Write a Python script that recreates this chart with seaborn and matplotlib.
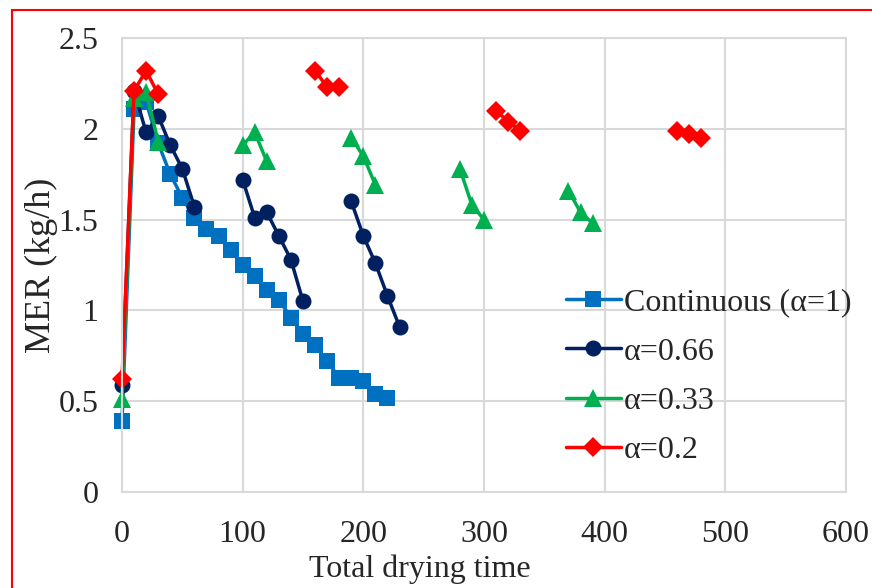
import pandas as pd
import matplotlib
matplotlib.use("Agg")
import matplotlib.pyplot as plt
import seaborn as sns
from matplotlib.lines import Line2D
from matplotlib.patches import Rectangle

# -------------------------
# DATA
# -------------------------
labels = ["Continuous (α=1)", "α=0.66", "α=0.33", "α=0.2"]
colors = ["#0070C0", "#002060", "#00B050", "#FF0000"]
markers = ["s", "o", "^", "D"]
marker_sizes = [11.5, 11.5, 13, 10.5]

# continuous drying, one run
cont_time = [[0, 10, 20, 30, 40, 50, 60, 70, 80, 90, 100, 110, 120, 130, 140,
              150, 160, 170, 180, 190, 200, 210, 220]]
cont_mer = [[0.39, 2.11, 2.15, 1.92, 1.75, 1.62, 1.51, 1.45, 1.41, 1.33, 1.25, 1.19,
             1.11, 1.06, 0.96, 0.87, 0.81, 0.72, 0.63, 0.63, 0.61, 0.54, 0.52]]

# intermittent drying, one list per drying period
a066_time = [[0, 10, 20, 30, 40, 50, 60], [100, 110, 120, 130, 140, 150],
             [190, 200, 210, 220, 230]]
a066_mer = [[0.59, 2.21, 1.98, 2.07, 1.91, 1.78, 1.57], [1.72, 1.51, 1.54, 1.41, 1.28, 1.05],
            [1.60, 1.41, 1.26, 1.08, 0.91]]

a033_time = [[0, 10, 20, 30], [100, 110, 120], [190, 200, 210], [280, 290, 300],
             [370, 380, 390]]
a033_mer = [[0.51, 2.17, 2.20, 1.93], [1.91, 1.98, 1.82], [1.95, 1.85, 1.69],
            [1.78, 1.58, 1.50], [1.66, 1.54, 1.48]]

a02_time = [[0, 10, 20, 30], [160, 170, 180], [310, 320, 330], [460, 470, 480]]
a02_mer = [[0.62, 2.21, 2.32, 2.19], [2.32, 2.23, 2.23], [2.10, 2.04, 1.99],
           [1.99, 1.97, 1.95]]

x_ticks = [0, 100, 200, 300, 400, 500, 600]
y_ticks = [0, 0.5, 1, 1.5, 2, 2.5]
y_ticklabels = ["0", "0.5", "1", "1.5", "2", "2.5"]

# long table: one row per point, segment id keeps the gaps
rows = []
all_times = [cont_time, a066_time, a033_time, a02_time]
all_mers = [cont_mer, a066_mer, a033_mer, a02_mer]
for name, times, mers in zip(labels, all_times, all_mers):
    for seg, (t, m) in enumerate(zip(times, mers)):
        for ti, mi in zip(t, m):
            rows.append({"time": ti, "mer": mi, "series": name, "segment": seg})
df = pd.DataFrame(rows)

# -------------------------
# PLOT
# -------------------------
sns.set_style("white")
plt.rcParams["font.family"] = ["Liberation Serif", "DejaVu Serif"]
FS = 23
LW = 2.5

fig = plt.figure(figsize=(8.72, 5.88), dpi=100)
ax = fig.add_axes([122 / 872, 1 - 492 / 588, 724 / 872, 454 / 588])

for name, c, m, ms in zip(labels, colors, markers, marker_sizes):
    sub = df[df["series"] == name]
    sns.lineplot(data=sub, x="time", y="mer", units="segment", estimator=None,
                 color=c, marker=m, markersize=ms, markeredgewidth=0,
                 linewidth=LW, clip_on=False, legend=False, ax=ax)

ax.set_xlim(0, 600)
ax.set_ylim(0, 2.5)
ax.set_xticks(x_ticks)
ax.set_yticks(y_ticks)
ax.set_yticklabels(y_ticklabels)
ax.tick_params(length=0, labelsize=FS)
ax.tick_params(axis="y", pad=17)
ax.tick_params(axis="x", pad=20)
ax.grid(True, color="#D9D9D9", linewidth=1.5)
ax.set_axisbelow(True)
for s in ax.spines.values():
    s.set_color("#D9D9D9")
    s.set_linewidth(1.5)

ax.set_xlabel("")
ax.set_ylabel("")
fig.text(420 / 872, 1 - 569 / 588, "Total drying time", fontsize=FS,
         ha="center", va="center")
fig.text(41 / 872, 1 - 265 / 588, "MER (kg/h)", fontsize=26, rotation=90,
         ha="center", va="center")

handles = [Line2D([], [], color=c, marker=m, linewidth=LW, markersize=ms,
                  markeredgewidth=0) for c, m, ms in zip(colors, markers, marker_sizes)]
ax.legend(handles, labels, loc="upper left", bbox_to_anchor=(566 / 872, 1 - 288 / 588),
          bbox_transform=fig.transFigure, frameon=False, fontsize=FS,
          handlelength=1.72, handletextpad=0.1, labelspacing=0.62, borderpad=0,
          borderaxespad=0)

# red frame around the figure (cropped on right and bottom)
fig.patches.append(Rectangle((12 / 872, -1), 3, 1 + (1 - 10 / 588), fill=False,
                             edgecolor="red", linewidth=1.5, transform=fig.transFigure))

plt.savefig("out.png", dpi=100)
